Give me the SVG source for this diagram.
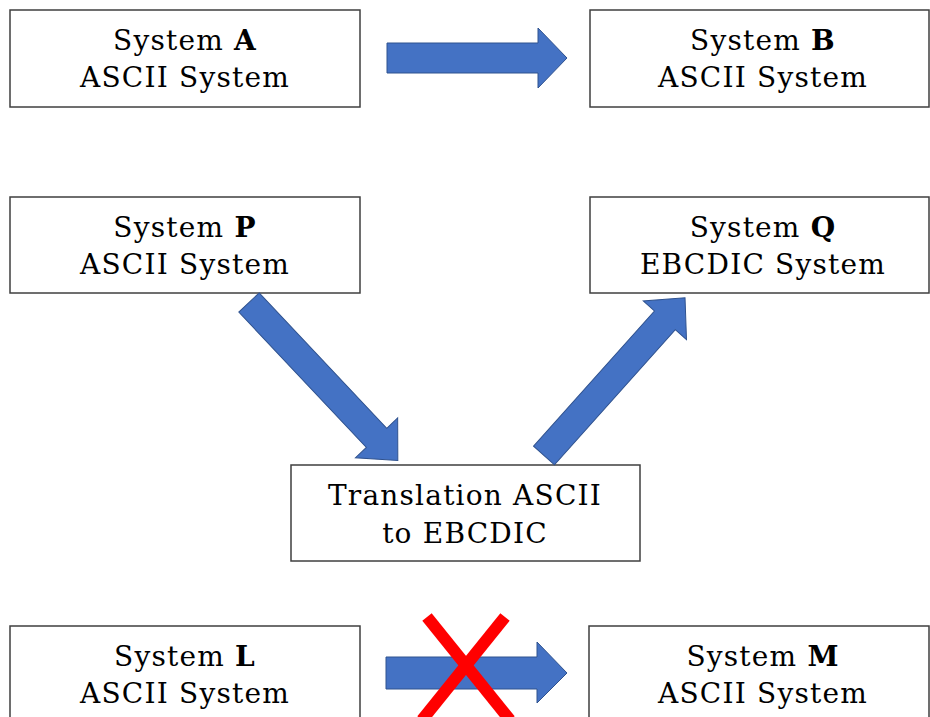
<svg xmlns="http://www.w3.org/2000/svg" width="930" height="717" viewBox="0 0 930 717">
  <style>
    .box { fill: #FFFFFF; stroke: #3F3F3F; stroke-width: 1.5; }
    .lbl { font-family: "DejaVu Serif", "Liberation Serif", serif; font-size: 28px; letter-spacing: 1.2px; fill: #000000; text-anchor: middle; }
    .b { font-weight: bold; }
    .arrow { fill: #4472C4; stroke: #2F528F; stroke-width: 1; }
    .cross { stroke: #FF0000; stroke-width: 12; stroke-linecap: butt; }
  </style>
  <defs>
    <!-- block arrow along +x: shaft half-width 14, head half-width 29, head length 31 -->
    <polygon id="blockArrowDiag" points="0,-14 186,-14 186,-29 217,0 186,29 186,14 0,14"/>
  </defs>
  <rect width="930" height="717" fill="#FFFFFF"/>

  <g id="nodeA">
    <rect class="box" x="10" y="10" width="350" height="97"/>
    <text class="lbl" x="185" y="50">System <tspan class="b">A</tspan></text>
    <text class="lbl" x="185" y="87">ASCII System</text>
  </g>
  <g id="nodeB">
    <rect class="box" x="590" y="10" width="339" height="97"/>
    <text class="lbl" x="763" y="50">System <tspan class="b">B</tspan></text>
    <text class="lbl" x="763" y="87">ASCII System</text>
  </g>
  <g id="nodeP">
    <rect class="box" x="10" y="197" width="350" height="96"/>
    <text class="lbl" x="185" y="237">System <tspan class="b">P</tspan></text>
    <text class="lbl" x="185" y="274">ASCII System</text>
  </g>
  <g id="nodeQ">
    <rect class="box" x="590" y="197" width="339" height="96"/>
    <text class="lbl" x="763" y="237">System <tspan class="b">Q</tspan></text>
    <text class="lbl" x="763" y="274">EBCDIC System</text>
  </g>
  <g id="nodeTranslation">
    <rect class="box" x="291" y="465" width="349" height="96"/>
    <text class="lbl" x="465" y="505">Translation ASCII</text>
    <text class="lbl" x="465" y="543">to EBCDIC</text>
  </g>
  <g id="nodeL">
    <rect class="box" x="10" y="626" width="350" height="100"/>
    <text class="lbl" x="185" y="666">System <tspan class="b">L</tspan></text>
    <text class="lbl" x="185" y="703">ASCII System</text>
  </g>
  <g id="nodeM">
    <rect class="box" x="589" y="626" width="340" height="100"/>
    <text class="lbl" x="763" y="666">System <tspan class="b">M</tspan></text>
    <text class="lbl" x="763" y="703">ASCII System</text>
  </g>

  <g id="connectors">
    <!-- A to B -->
    <polygon class="arrow" points="387,43 538,43 538,28 567,58 538,88 538,73 387,73"/>
    <!-- P to translation -->
    <use href="#blockArrowDiag" class="arrow" transform="translate(249,302.5) rotate(46.7)"/>
    <!-- translation to Q -->
    <use href="#blockArrowDiag" class="arrow" transform="translate(544,455.5) rotate(-48.2) scale(0.975,1)"/>
    <!-- L to M, struck out -->
    <polygon class="arrow" points="386,657 537,657 537,642 567,673 537,703 537,689 386,689"/>
    <line class="cross" x1="427" y1="617" x2="510" y2="720"/>
    <line class="cross" x1="505" y1="617" x2="422" y2="720"/>
  </g>
</svg>
